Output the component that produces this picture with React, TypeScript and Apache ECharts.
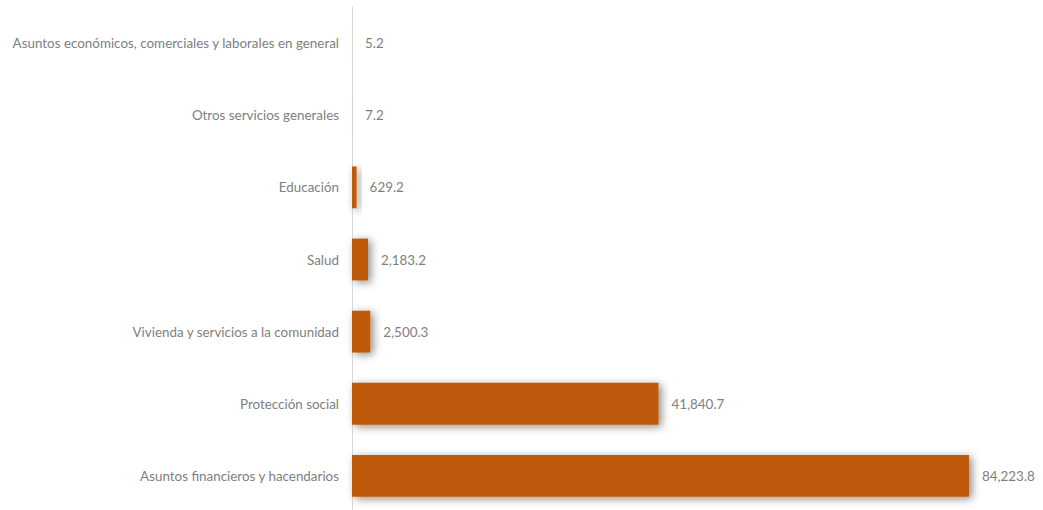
import React, { useEffect, useRef } from "react";
import * as echarts from "echarts";

const categories = [
  "Asuntos financieros y hacendarios",
  "Protección social",
  "Vivienda y servicios a la comunidad",
  "Salud",
  "Educación",
  "Otros servicios generales",
  "Asuntos económicos, comerciales y laborales en general",
];
const values = [84223.8, 41840.7, 2500.3, 2183.2, 629.2, 7.2, 5.2];

const fmt = (v: number) =>
  v.toLocaleString("en-US", { minimumFractionDigits: 1, maximumFractionDigits: 1 });

export default function App() {
  const ref = useRef<HTMLDivElement>(null);
  useEffect(() => {
    const chart = echarts.init(ref.current!, null, { renderer: "svg" });
    chart.setOption({
      animation: false,
      grid: { left: 352, right: 74, top: 7, bottom: 8, containLabel: false },
      xAxis: {
        type: "value",
        min: 0,
        max: 84223.8,
        show: false,
      },
      yAxis: {
        type: "category",
        data: categories,
        axisLine: { show: true, lineStyle: { color: "#d9d9d9", width: 1 } },
        axisTick: { show: false },
        axisLabel: {
          color: "#808080",
          fontFamily: "Lato",
          fontSize: 13.4,
          margin: 13,
        },
        splitLine: { show: false },
      },
      series: [
        {
          type: "bar",
          data: values,
          barCategoryGap: "42%",
          itemStyle: {
            color: "#BF5A0A",
            shadowColor: "rgba(0,0,0,0.45)",
            shadowBlur: 8,
            shadowOffsetX: 3,
            shadowOffsetY: 2,
          },
          label: {
            show: true,
            position: "right",
            distance: 13,
            color: "#808080",
            fontFamily: "Lato",
            fontSize: 13.4,
            formatter: (p: any) => fmt(p.value),
          },
        },
      ],
    });
    return () => chart.dispose();
  }, []);
  return (
    <div style={{ position: "fixed", left: 0, top: 0, width: 1043, height: 510, overflow: "hidden", background: "#fff" }}>
      <div ref={ref} style={{ width: 1043, height: 520 }} />
    </div>
  );
}
